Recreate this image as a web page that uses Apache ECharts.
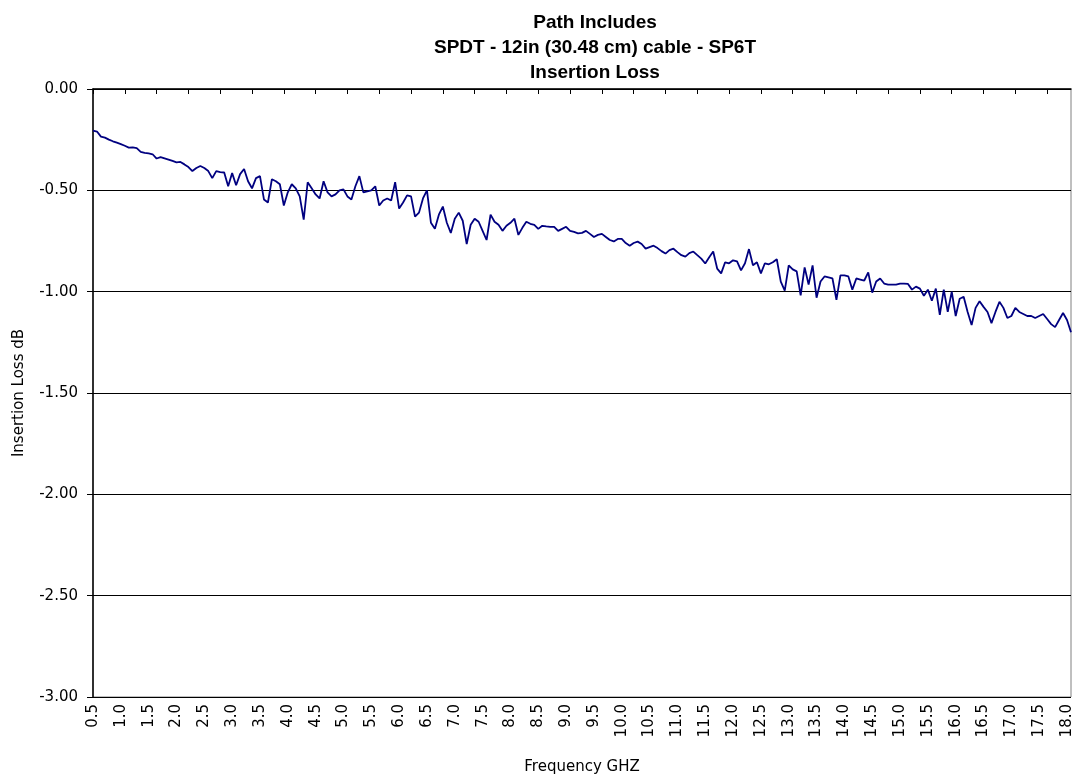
<!DOCTYPE html>
<html>
<head>
<meta charset="utf-8">
<script src="https://cdn.jsdelivr.net/npm/echarts@6/dist/echarts.min.js"></script>
<style>html,body{margin:0;padding:0;background:#fff}#c{width:1078px;height:780px}</style>
</head>
<body>
<div id="c"></div>
<script>
// Frequency grid (GHz): 0.5 GHz start, 0.5/7 GHz spacing between samples
const FREQ_START = 0.5;
const FREQ_STEP = 0.5 / 7;
const tickLabels = ['0.5','1.0','1.5','2.0','2.5','3.0','3.5','4.0','4.5','5.0','5.5','6.0','6.5','7.0','7.5','8.0','8.5','9.0','9.5','10.0','10.5','11.0','11.5','12.0','12.5','13.0','13.5','14.0','14.5','15.0','15.5','16.0','16.5','17.0','17.5','18.0'];
const yTickLabels = ['-3.00','-2.50','-2.00','-1.50','-1.00','-0.50','0.00'];
// Insertion loss (dB)
const insertionLoss = [
-0.205,-0.21,-0.235,-0.24,-0.25,-0.258,-0.265,-0.272,-0.28,-0.289,
-0.288,-0.292,-0.31,-0.315,-0.318,-0.322,-0.343,-0.336,-0.342,-0.348,
-0.355,-0.362,-0.36,-0.372,-0.385,-0.405,-0.39,-0.38,-0.39,-0.405,
-0.44,-0.405,-0.41,-0.412,-0.48,-0.415,-0.475,-0.42,-0.395,-0.455,
-0.49,-0.44,-0.43,-0.545,-0.56,-0.445,-0.455,-0.47,-0.575,-0.51,
-0.47,-0.49,-0.53,-0.645,-0.46,-0.49,-0.52,-0.54,-0.455,-0.51,
-0.53,-0.52,-0.50,-0.495,-0.53,-0.545,-0.48,-0.43,-0.51,-0.505,
-0.50,-0.48,-0.575,-0.55,-0.54,-0.55,-0.46,-0.59,-0.56,-0.525,
-0.53,-0.63,-0.61,-0.54,-0.50,-0.66,-0.69,-0.62,-0.58,-0.66,
-0.71,-0.64,-0.61,-0.65,-0.765,-0.67,-0.64,-0.655,-0.70,-0.745,
-0.62,-0.655,-0.67,-0.70,-0.675,-0.66,-0.64,-0.72,-0.685,-0.655,
-0.665,-0.67,-0.69,-0.675,-0.678,-0.68,-0.68,-0.70,-0.69,-0.68,
-0.70,-0.705,-0.712,-0.71,-0.70,-0.715,-0.73,-0.72,-0.715,-0.73,
-0.745,-0.752,-0.74,-0.74,-0.76,-0.773,-0.76,-0.753,-0.765,-0.788,
-0.78,-0.773,-0.785,-0.80,-0.812,-0.795,-0.788,-0.805,-0.82,-0.827,
-0.81,-0.802,-0.82,-0.837,-0.861,-0.83,-0.802,-0.886,-0.91,-0.855,
-0.86,-0.845,-0.85,-0.895,-0.86,-0.79,-0.87,-0.855,-0.91,-0.86,
-0.865,-0.855,-0.84,-0.95,-0.995,-0.87,-0.89,-0.90,-1.018,-0.88,
-0.965,-0.87,-1.03,-0.95,-0.925,-0.93,-0.935,-1.04,-0.92,-0.92,
-0.925,-0.99,-0.935,-0.94,-0.945,-0.905,-1.005,-0.95,-0.935,-0.96,
-0.965,-0.965,-0.965,-0.96,-0.96,-0.962,-0.99,-0.975,-0.985,-1.02,
-0.99,-1.045,-0.985,-1.115,-0.99,-1.10,-1.00,-1.12,-1.035,-1.025,
-1.10,-1.165,-1.08,-1.047,-1.075,-1.10,-1.155,-1.10,-1.05,-1.08,
-1.13,-1.12,-1.08,-1.10,-1.11,-1.12,-1.12,-1.13,-1.12,-1.11,
-1.135,-1.16,-1.175,-1.14,-1.105,-1.14,-1.20
];
const categories = insertionLoss.map((_, i) => (FREQ_START + i * FREQ_STEP).toFixed(3));

const chart = echarts.init(document.getElementById('c'), null, {renderer: 'canvas'});
const axisFont = {fontFamily: 'DejaVu Sans', fontSize: 15, color: '#000'};
chart.setOption({
  backgroundColor: '#fff',
  animation: false,
  title: {
    text: 'Path Includes\nSPDT - 12in (30.48 cm) cable - SP6T\nInsertion Loss',
    left: 590, top: 5, textAlign: 'center',
    textStyle: {fontFamily: 'Liberation Sans', fontWeight: 'bold', fontSize: 19, lineHeight: 25, color: '#000'}
  },
  grid: {left: 93, right: 7, top: 89, bottom: 78, show: true, borderColor: '#808080', borderWidth: 1, backgroundColor: '#fff'},
  xAxis: {
    type: 'category', data: categories, boundaryGap: false,
    name: 'Frequency GHZ', nameLocation: 'middle', nameGap: 63,
    nameTextStyle: axisFont,
    axisLine: {lineStyle: {color: '#000', width: 1.5}},
    axisTick: {show: true, interval: 7, length: 5, lineStyle: {color: '#000'}},
    axisLabel: Object.assign({
      interval: 6, rotate: 90, margin: 7,
      formatter: (v, idx) => (idx % 7 === 0 && tickLabels[idx / 7] !== undefined) ? tickLabels[idx / 7] : ''
    }, axisFont),
    splitLine: {show: false}
  },
  yAxis: {
    type: 'value', min: -3, max: 0, interval: 0.5,
    name: 'Insertion Loss dB', nameLocation: 'middle', nameGap: 66,
    nameTextStyle: axisFont,
    axisLine: {show: true, lineStyle: {color: '#000', width: 1.5}},
    axisTick: {show: true, length: 6, lineStyle: {color: '#000'}},
    axisLabel: Object.assign({
      margin: 15,
      formatter: v => { const s = v.toFixed(2); return yTickLabels.indexOf(s) >= 0 ? s : ''; }
    }, axisFont),
    splitLine: {show: true, lineStyle: {color: '#000', width: 1.2}}
  },
  series: [{
    type: 'line', data: insertionLoss, symbol: 'none', smooth: false,
    lineStyle: {color: '#000080', width: 1.8}
  }]
});
</script>
</body>
</html>
